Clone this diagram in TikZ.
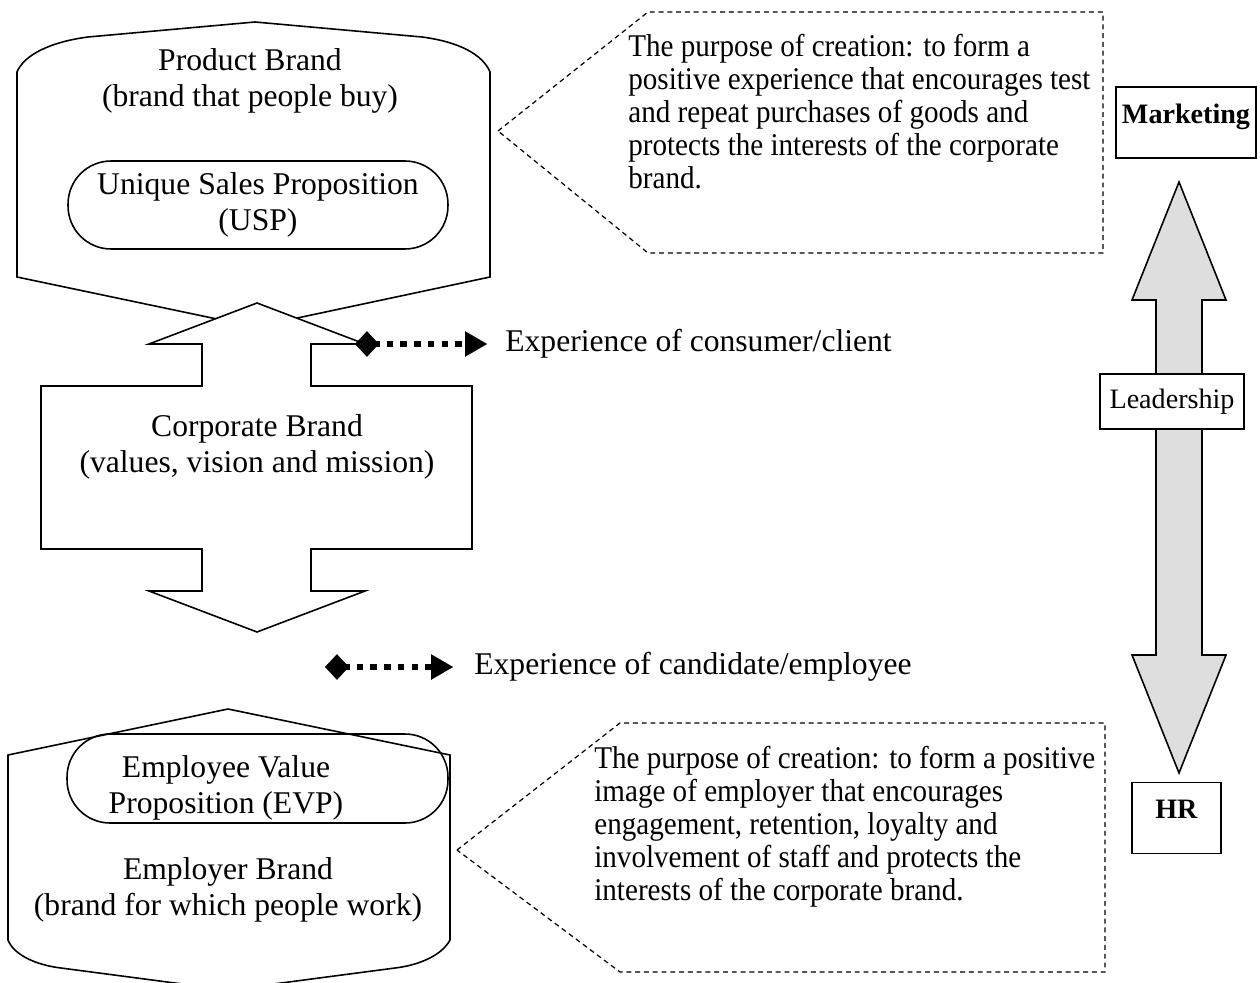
\documentclass[tikz,border=0pt]{standalone}
\usepackage{fontspec}
\setmainfont{Liberation Serif}
\newfontfamily\narrowserif{Liberation Serif}[FakeStretch=0.92]
\usetikzlibrary{arrows.meta, positioning}

\begin{document}
\begin{tikzpicture}[
    x=0.02cm, y=-0.02cm,
    outline/.style={draw, line width=0.9pt, line join=miter},
    callout/.style={draw, line width=0.7pt, dash pattern=on 2.8pt off 2.2pt},
    label18/.style={font=\fontsize{18}{20.8}\selectfont, align=center},
    oval/.style={draw, line width=0.9pt, rounded corners=0.86cm, minimum width=7.6cm, minimum height=1.76cm, inner sep=0pt, align=center, font=\fontsize{18}{20.8}\selectfont},
    purposetext/.style={font=\narrowserif\fontsize{18}{18.8}\selectfont, align=left, inner sep=0pt, anchor=north west},
    tagbox/.style={draw, line width=0.9pt, font=\fontsize{16}{19}\selectfont, inner sep=0pt, text height=20.4pt, text depth=19.8pt},
    expline/.style={line width=3.4pt, dash pattern=on 3.8pt off 4pt,
        {Diamond[length=13.6pt, width=14.5pt, line width=0.1pt]}-{Triangle[length=12.5pt, width=14.5pt, line width=0.1pt]}}
]
\useasboundingbox (0,0) rectangle (1260,983);
\clip (0,0) rectangle (1260,983);

% purpose callouts
\draw[callout] (498,131) -- (648,12) -- (1103,12) -- (1103,253) -- (648,253) -- cycle;
\draw[callout] (457,850) -- (620,723) -- (1105,723) -- (1105,972) -- (620,972) -- cycle;
\node[purposetext] (purpose1) at (628,34) {The purpose of creation: to form a\\positive experience that encourages test\\and repeat purchases of goods and\\protects the interests of the corporate\\brand.};
\node[purposetext] (purpose2) at (594,746) {The purpose of creation: to form a positive\\image of employer that encourages\\engagement, retention, loyalty and\\involvement of staff and protects the\\interests of the corporate brand.};

% product brand
\draw[outline] (17,72) .. controls (24,55) and (50,42) .. (88,37) -- (255,22) -- (422,37) .. controls (460,42) and (483,55) .. (490,72) -- (490,277) -- (255,327) -- (17,277) -- cycle;
\node[label18] (product) at (250,81) {Product Brand\\(brand that people buy)};
\node[oval] (usp) at (258,205) {Unique Sales Proposition\\(USP)};

% corporate brand
\draw[outline, fill=white] (257,303) -- (365,344) -- (311,344) -- (311,386) -- (472,386) -- (472,549) -- (311,549) -- (311,591) -- (365,591) -- (257,632) -- (149,591) -- (202,591) -- (202,549) -- (41,549) -- (41,386) -- (202,386) -- (202,344) -- (149,344) -- cycle;
\node[label18] (corporate) at (257,447) {Corporate Brand\\(values, vision and mission)};

% employer brand
\draw[outline] (8,755) -- (228,709) -- (450,755) -- (450,940) .. controls (442,955) and (420,965) .. (395,968) -- (228,990) -- (61,968) .. controls (36,965) and (14,955) .. (8,940) -- cycle;
\node[oval, minimum width=7.62cm, minimum height=1.78cm] (evp) at (257.5,778.5) {};
\node[label18] (evptext) at (226,788) {Employee Value\\Proposition (EVP)};
\node[label18] (employer) at (228,890) {Employer Brand\\(brand for which people work)};

% experience arrows
\coordinate (corpright) at (355,344);
\coordinate (candstart) at (325,667);
\node[label18, inner sep=0pt, anchor=west] (consumer) at (505,344) {Experience of consumer/client};
\node[label18, inner sep=0pt, anchor=west] (candidate) at (474,667) {Experience of candidate/employee};
\draw[expline, shorten >=0.36cm] (corpright) -- (consumer.west);
\draw[expline, shorten >=0.42cm] (candstart) -- (candidate.west);

% marketing / HR axis
\draw[outline, fill=black!13] (1179,182) -- (1226,300) -- (1202,300) -- (1202,655) -- (1226,655) -- (1179,773) -- (1132,655) -- (1156,655) -- (1156,300) -- (1132,300) -- cycle;
\node[draw, line width=0.9pt, fill=white, minimum width=2.88cm, minimum height=1.1cm, inner sep=0pt, font=\fontsize{16}{19}\selectfont] (leadership) at (1172,401.5) {Leadership};
\node[tagbox, minimum width=2.8cm] (marketing) at (1186,122.5) {\textbf{Marketing}};
\node[tagbox, minimum width=1.78cm] (hr) at (1176.5,818) {\textbf{HR}};
\end{tikzpicture}
\end{document}
